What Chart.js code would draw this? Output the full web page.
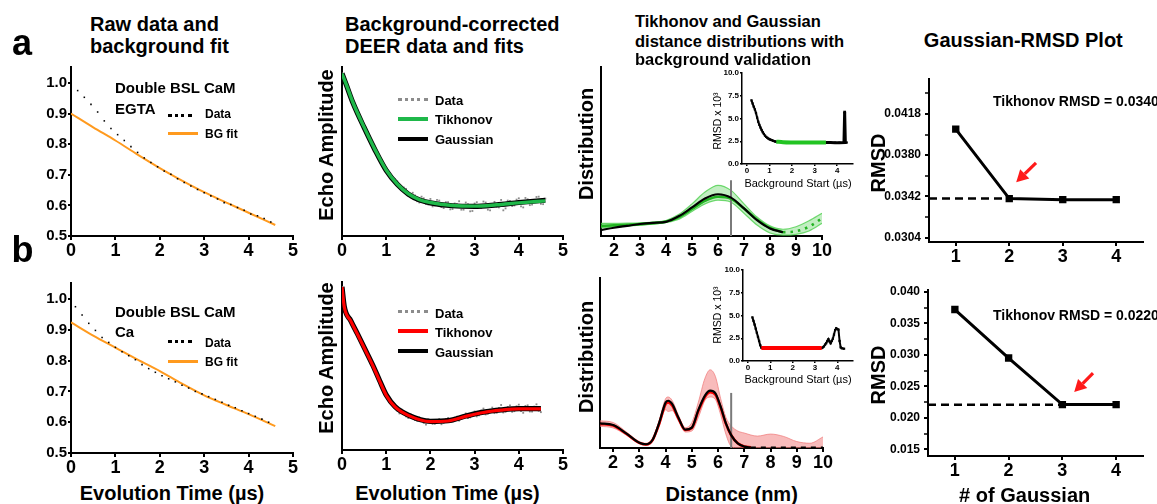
<!DOCTYPE html>
<html><head><meta charset="utf-8">
<script src="https://cdn.jsdelivr.net/npm/chart.js@4.4.0/dist/chart.umd.min.js"></script>
<style>
html,body{margin:0;padding:0;width:1157px;height:504px;overflow:hidden;background:#fff;}
body{position:relative;font-family:"Liberation Sans",Arial,Helvetica,sans-serif;color:#000;}
canvas{position:absolute;}
.t{position:absolute;white-space:nowrap;font-weight:bold;color:#000;z-index:10;}
.s{position:absolute;z-index:10;}
</style></head><body>
<script>
// ---------------- DATA ----------------
// Column 1: raw data and background fit
const rawTimeA = [0,0.15,0.3,0.45,0.6,0.75,0.9,1.05,1.2,1.35,1.5,1.65,1.8,1.95,2.1,2.25,2.4,2.55,2.7,2.85,3.0,3.15,3.3,3.45,3.6,3.75,3.9,4.05,4.2,4.35,4.5];
const rawDataA = [0.995,0.975,0.953,0.930,0.905,0.876,0.851,0.831,0.812,0.792,0.773,0.755,0.740,0.726,0.712,0.702,0.687,0.675,0.663,0.652,0.641,0.631,0.621,0.609,0.603,0.593,0.584,0.572,0.566,0.557,0.546];
const bgTime = [0,0.5,1,1.5,2,2.5,3,3.5,4,4.6];
const bgFitA = [0.900,0.855,0.812,0.766,0.722,0.681,0.643,0.609,0.576,0.536];
const rawTimeB = [0.1,0.25,0.4,0.55,0.7,0.85,1.0,1.15,1.3,1.45,1.6,1.75,1.9,2.05,2.2,2.35,2.5,2.65,2.8,2.95,3.1,3.25,3.4,3.55,3.7,3.85,4.0,4.15,4.3,4.45];
const rawDataB = [0.975,0.948,0.921,0.898,0.875,0.859,0.843,0.829,0.816,0.803,0.787,0.774,0.762,0.751,0.741,0.731,0.720,0.711,0.700,0.692,0.683,0.674,0.665,0.655,0.647,0.637,0.628,0.619,0.610,0.600];
const bgFitB = [0.924,0.881,0.842,0.803,0.766,0.725,0.687,0.656,0.626,0.587];

// Column 2: background-corrected DEER data and fits
const deerTimeA = [0,0.1,0.2,0.3,0.4,0.5,0.6,0.7,0.8,0.9,1.0,1.1,1.2,1.3,1.4,1.5,1.6,1.7,1.8,1.9,2.0,2.1,2.2,2.3,2.4,2.5,2.6,2.7,2.8,2.9,3.0,3.1,3.2,3.3,3.4,3.5,3.6,3.7,3.8,3.9,4.0,4.1,4.2,4.3,4.4,4.5,4.6];
const deerDataA = [1.0,0.962,0.931,0.892,0.869,0.831,0.810,0.774,0.757,0.722,0.709,0.680,0.674,0.648,0.649,0.624,0.633,0.607,0.621,0.598,0.614,0.594,0.609,0.586,0.604,0.583,0.598,0.581,0.603,0.576,0.600,0.588,0.606,0.581,0.597,0.590,0.611,0.585,0.608,0.594,0.616,0.588,0.613,0.597,0.620,0.599,0.615];
const deerTimeA2 = [1.25,1.35,1.45,1.55,1.65,1.75,1.85,1.95,2.05,2.15,2.25,2.35,2.45,2.55,2.65,2.75,2.85,2.95,3.05,3.15,3.25,3.35,3.45,3.55,3.65,3.75,3.85,3.95,4.05,4.15,4.25,4.35,4.45,4.55];
const deerDataA2 = [0.668,0.641,0.645,0.619,0.625,0.603,0.616,0.597,0.591,0.611,0.589,0.604,0.582,0.600,0.607,0.581,0.598,0.577,0.604,0.586,0.603,0.579,0.605,0.588,0.579,0.609,0.592,0.612,0.591,0.617,0.595,0.611,0.621,0.598];
const fitTimeA = [0,0.1,0.25,0.5,0.75,1.0,1.25,1.5,1.75,2.0,2.5,3.0,3.5,4.0,4.6];
const tikhFitA = [1.0,0.965,0.910,0.835,0.765,0.703,0.660,0.630,0.612,0.603,0.594,0.592,0.596,0.602,0.608];
const gaussFitA = [1.0,0.964,0.909,0.834,0.764,0.702,0.659,0.629,0.611,0.602,0.593,0.591,0.596,0.603,0.610];
const deerTimeB = [0,0.1,0.2,0.3,0.4,0.5,0.6,0.7,0.8,0.9,1.0,1.1,1.2,1.3,1.4,1.5,1.6,1.7,1.8,1.9,2.0,2.1,2.2,2.3,2.4,2.5,2.6,2.7,2.8,2.9,3.0,3.1,3.2,3.3,3.4,3.5,3.6,3.7,3.8,3.9,4.0,4.1,4.2,4.3,4.4,4.5];
const deerDataB = [1.0,0.925,0.895,0.868,0.840,0.813,0.785,0.757,0.728,0.692,0.664,0.645,0.633,0.612,0.614,0.598,0.603,0.589,0.596,0.578,0.592,0.580,0.595,0.583,0.598,0.588,0.602,0.596,0.612,0.600,0.618,0.606,0.627,0.611,0.630,0.614,0.638,0.617,0.637,0.619,0.639,0.614,0.637,0.618,0.640,0.616];
const deerTimeB2 = [1.25,1.35,1.45,1.55,1.65,1.75,1.85,1.95,2.05,2.15,2.25,2.35,2.45,2.55,2.65,2.75,2.85,2.95,3.05,3.15,3.25,3.35,3.45,3.55,3.65,3.75,3.85,3.95,4.05,4.15,4.25,4.35,4.45];
const deerDataB2 = [0.621,0.624,0.603,0.609,0.592,0.600,0.583,0.594,0.580,0.592,0.579,0.595,0.586,0.599,0.590,0.606,0.598,0.614,0.603,0.621,0.609,0.624,0.613,0.629,0.615,0.632,0.617,0.634,0.619,0.635,0.618,0.633,0.620];
const fitTimeB = [0,0.05,0.2,0.35,0.55,0.7,0.85,1.0,1.2,1.5,2.0,2.4,2.8,3.2,3.6,4.0,4.5];
const tikhFitB = [1.0,0.940,0.895,0.855,0.800,0.758,0.712,0.668,0.632,0.606,0.587,0.589,0.603,0.615,0.622,0.626,0.626];
const gaussFitB = [1.0,0.941,0.896,0.856,0.801,0.759,0.713,0.669,0.633,0.607,0.588,0.590,0.604,0.616,0.623,0.627,0.627];

// Column 3: distance distributions
const distA = [1.5,2,2.5,3,3.5,4,4.5,5,5.5,6,6.5,7,7.5,8,8.5];
const gaussDistA = [0.035,0.049,0.060,0.071,0.078,0.084,0.118,0.169,0.222,0.247,0.227,0.163,0.094,0.045,0.022];
const tikhDistA = [0.060,0.063,0.066,0.070,0.076,0.085,0.112,0.160,0.208,0.232,0.220,0.163,0.098,0.048,0.022];
const tailDistA = [8.5,9,9.5,10];
const tikhTailA = [0.022,0.028,0.055,0.105];
const bandDistA = [1.5,2,2.5,3,3.5,4,4.5,5,5.5,6,6.5,7,7.5,8,8.5,9,9.5,10];
const bandUpperA = [0.075,0.075,0.076,0.078,0.083,0.092,0.128,0.190,0.260,0.300,0.270,0.190,0.112,0.060,0.040,0.055,0.090,0.135];
const bandLowerA = [0.048,0.052,0.058,0.064,0.070,0.080,0.100,0.145,0.190,0.212,0.200,0.135,0.065,0.018,0.005,0.010,0.030,0.075];
const cutoffA = [0,0.33];

const distB = [1.5,2,2.5,3,3.25,3.5,3.75,4,4.1,4.25,4.5,4.75,5,5.25,5.5,5.7,5.9,6.1,6.3,6.5,6.75,7,7.25];
const gaussDistB = [0.145,0.135,0.086,0.031,0.022,0.047,0.145,0.267,0.278,0.259,0.175,0.108,0.120,0.224,0.308,0.337,0.322,0.243,0.145,0.076,0.027,0.008,0.003];
const tikhDistB = [0.142,0.132,0.084,0.030,0.021,0.046,0.140,0.258,0.268,0.250,0.170,0.106,0.118,0.218,0.300,0.328,0.314,0.238,0.142,0.075,0.028,0.009,0.004];
const bandDistB = [1.5,2,2.5,3,3.25,3.5,3.75,4,4.1,4.25,4.5,4.75,5,5.25,5.5,5.7,5.9,6.1,6.3,6.5,6.75,7,7.5,8,8.5,9,9.5,10];
const bandUpperB = [0.160,0.150,0.095,0.038,0.028,0.055,0.160,0.290,0.300,0.280,0.190,0.120,0.150,0.270,0.410,0.460,0.420,0.290,0.180,0.130,0.100,0.088,0.070,0.082,0.068,0.038,0.028,0.065];
const bandLowerB = [0.128,0.118,0.076,0.024,0.015,0.038,0.128,0.225,0.215,0.220,0.158,0.094,0.100,0.180,0.280,0.300,0.285,0.195,0.080,0.010,0,0,0,0,0,0,0,0];
const tailDistB = [7.25,10];
const tailValB = [0.003,0.003];
const cutoffB = [0,0.324];
const cutoffDist = 6.5;

// Insets: background validation
const insTopT1 = [0.2,0.25,0.3,0.35,0.4,0.45,0.5,0.55,0.6,0.65,0.7,0.75,0.8,0.85,0.9,0.95,1.0,1.05,1.1,1.15,1.2,1.25,1.3];
const insTopV1 = [7.0,6.65,6.3,6.0,5.6,5.1,4.65,4.3,4.0,3.74,3.5,3.3,3.12,2.98,2.88,2.79,2.72,2.66,2.62,2.56,2.52,2.48,2.45];
const insTopT2 = [1.3,1.6,2.0,2.5,3.0,3.5];
const insTopV2 = [2.45,2.40,2.37,2.35,2.35,2.35];
const insTopT3 = [3.5,3.7,3.9,4.1,4.3,4.33,4.36,4.42];
const insTopV3 = [2.35,2.35,2.34,2.34,2.35,5.7,2.36,2.36];
const insBotT1 = [0.2,0.25,0.3,0.35,0.4,0.45,0.5,0.55,0.6];
const insBotV1 = [4.8,4.4,4.0,3.55,3.1,2.65,2.2,1.75,1.45];
const insBotT2 = [0.6,1.0,1.5,2.0,2.5,3.0,3.3];
const insBotV2 = [1.42,1.42,1.42,1.42,1.42,1.42,1.42];
const insBotT3 = [3.3,3.35,3.4,3.45,3.5,3.55,3.6,3.65,3.7,3.75,3.8,3.85,3.9,3.95,4.0,4.05,4.1,4.15,4.2,4.3];
const insBotV3 = [1.42,1.5,1.6,1.8,1.95,2.2,2.4,2.15,1.95,2.2,2.45,2.9,3.4,3.6,3.5,3.45,2.2,1.5,1.4,1.35];

// Column 4: Gaussian-RMSD
const gaussCount = [1,2,3,4];
const rmsdA = [0.0404,0.0340,0.0339,0.0339];
const rmsdB = [0.0372,0.0295,0.0221,0.0221];
const tikhRmsdA = 0.03400;
const tikhRmsdB = 0.02209;

// Tick values
const timeTicks = [0,1,2,3,4,5];
const rawYTicks = [0.5,0.6,0.7,0.8,0.9,1.0];
const distTicks = [2,3,4,5,6,7,8,9,10];
const insXTicks = [0,1,2,3,4];
const insYTicks = [0,2.5,5,7.5,10];
const gaussTicks = [1,2,3,4];
const rmsdTicksA = [0.0304,0.0323,0.0342,0.0361,0.0380,0.0399,0.0418,0.0437];
const rmsdMinorA = [0.0323,0.0361,0.0399,0.0437];
const rmsdTicksB = [0.015,0.0175,0.020,0.0225,0.025,0.0275,0.030,0.0325,0.035,0.0375,0.040];
const rmsdMinorB = [0.0175,0.0225,0.0275,0.0325,0.0375];

// ---------------- HELPERS ----------------
const FONT = '"Liberation Sans", Arial, Helvetica, sans-serif';
const pts = (xs, ys) => xs.map((x, i) => ({x: x, y: ys[i]}));
function ln(xs, ys, o) {
  return Object.assign({data: pts(xs, ys), borderColor: '#000', borderWidth: 2, pointRadius: 0,
    fill: false, cubicInterpolationMode: 'monotone', tension: 0}, o || {});
}
function dots(xs, ys, o) {
  return Object.assign({data: pts(xs, ys), showLine: false, pointRadius: 1.2, pointStyle: 'rect',
    pointBackgroundColor: '#000', pointBorderWidth: 0, borderColor: 'rgba(0,0,0,0)'}, o || {});
}
function axis(o) {
  return {
    type: 'linear', min: o.min, max: o.max,
    afterBuildTicks: s => { s.ticks = o.ticks.map(v => ({value: v})); },
    grid: {display: !!o.tl, drawOnChartArea: false, drawTicks: true, tickLength: o.tl || 0,
      color: '#000', lineWidth: o.lw || 2, tickWidth: o.tw || (o.lw || 2)},
    border: {display: true, color: '#000', width: o.lw || 2},
    ticks: {display: !o.nolab, color: '#000', padding: o.pad || 0, autoSkip: false, maxRotation: 0, minRotation: 0,
      font: {family: FONT, size: o.fs || 18, weight: 'bold'}, callback: o.cb || (v => String(v))}
  };
}
function mk(area, box, xo, yo, datasets, extra) {
  extra = extra || {};
  const c = document.createElement('canvas');
  const W = box.r - box.l, H = box.b - box.t;
  c.width = W; c.height = H;
  Object.assign(c.style, {left: box.l + 'px', top: box.t + 'px', width: W + 'px', height: H + 'px', zIndex: extra.z || 1});
  document.body.appendChild(c);
  const yW = area.l - box.l, xH = box.b - area.b;
  const xs = axis(xo); xs.afterFit = s => { s.height = xH; };
  const ys = axis(yo); ys.afterFit = s => { s.width = yW; };
  return new Chart(c.getContext('2d'), {
    type: 'line',
    data: {datasets: datasets},
    options: {
      responsive: false, animation: false, devicePixelRatio: 1, events: [],
      layout: {padding: {top: area.t - box.t, right: box.r - area.r, left: 0, bottom: 0}},
      plugins: {legend: {display: false}, tooltip: {enabled: false}, title: {display: false}},
      scales: {x: xs, y: ys}
    },
    plugins: extra.plugins || []
  });
}
function T(s, x, y, size, o) {
  o = o || {};
  const d = document.createElement('div');
  d.className = 't'; d.textContent = s;
  d.style.fontSize = size + 'px'; d.style.lineHeight = size + 'px';
  d.style.left = x + 'px'; d.style.top = y + 'px';
  if (o.normal) d.style.fontWeight = 'normal';
  let tr = (o.a === 'l') ? 'translate(0,-50%)' : 'translate(-50%,-50%)';
  if (o.rot) tr += ' rotate(-90deg)';
  d.style.transform = tr;
  document.body.appendChild(d);
}
function S(x1, x2, y, th, color, dotted) {
  const d = document.createElement('div');
  d.className = 's';
  d.style.left = x1 + 'px'; d.style.width = (x2 - x1) + 'px';
  d.style.top = (y - th / 2) + 'px';
  if (dotted) { d.style.height = '0px'; d.style.borderTop = th + 'px dotted ' + color; }
  else { d.style.height = th + 'px'; d.style.background = color; }
  document.body.appendChild(d);
}
function arrowPlugin(from, to) {
  return {id: 'arrow', afterDatasetsDraw(chart) {
    const ctx = chart.ctx, xs = chart.scales.x, ys = chart.scales.y;
    const x1 = xs.getPixelForValue(from[0]), y1 = ys.getPixelForValue(from[1]);
    const x2 = xs.getPixelForValue(to[0]), y2 = ys.getPixelForValue(to[1]);
    const ang = Math.atan2(y2 - y1, x2 - x1), hl = 12, hw = 6.5;
    const bx = x2 - hl * Math.cos(ang), by = y2 - hl * Math.sin(ang);
    ctx.save();
    ctx.strokeStyle = '#ff1a1a'; ctx.fillStyle = '#ff1a1a'; ctx.lineWidth = 3.2;
    ctx.beginPath(); ctx.moveTo(x1, y1); ctx.lineTo(bx, by); ctx.stroke();
    ctx.beginPath(); ctx.moveTo(x2, y2);
    ctx.lineTo(bx + hw * Math.sin(ang), by - hw * Math.cos(ang));
    ctx.lineTo(bx - hw * Math.sin(ang), by + hw * Math.cos(ang));
    ctx.closePath(); ctx.fill();
    ctx.restore();
  }};
}

const ORANGE = '#ff9a1e', GREEN = '#1fb84a', RED = '#ff0000', GRAY = '#8c8c8c';

// ---------------- COLUMN 1 ----------------
const yRaw = {min: 0.5, max: 1.052, ticks: rawYTicks, tl: 3, pad: 1, fs: 15, cb: v => v.toFixed(1)};
const xTime = {min: 0, max: 5, ticks: timeTicks, tl: 4, fs: 18};
mk({l: 71, t: 67, r: 293, b: 236}, {l: 28, t: 57, r: 301, b: 265}, xTime, yRaw, [
  dots(rawTimeA, rawDataA, {order: 0, pointRadius: 1.1}),
  ln(bgTime, bgFitA, {borderColor: ORANGE, borderWidth: 2, order: 1})
]);
mk({l: 71, t: 283, r: 293, b: 453}, {l: 28, t: 273, r: 301, b: 482}, xTime, yRaw, [
  dots(rawTimeB, rawDataB, {order: 0, pointRadius: 1.1}),
  ln(bgTime, bgFitB, {borderColor: ORANGE, borderWidth: 2, order: 1})
]);

// ---------------- COLUMN 2 ----------------
const yNo = (mn, mx) => ({min: mn, max: mx, ticks: [], nolab: true, tl: 0});
mk({l: 342, t: 67, r: 563, b: 236}, {l: 320, t: 57, r: 570, b: 265}, xTime, yNo(0.5, 1.02), [
  ln(fitTimeA, tikhFitA, {borderColor: GREEN, borderWidth: 3.4, order: 0}),
  ln(fitTimeA, gaussFitA, {borderColor: '#000', borderWidth: 5.2, order: 1}),
  dots(deerTimeA, deerDataA, {pointBackgroundColor: GRAY, pointRadius: 1.3, order: 2}),
  dots(deerTimeA2, deerDataA2, {pointBackgroundColor: GRAY, pointRadius: 1.3, order: 2})
]);
mk({l: 342, t: 282, r: 563, b: 450}, {l: 320, t: 272, r: 570, b: 479}, xTime, yNo(0.5, 1.015), [
  ln(fitTimeB, tikhFitB, {borderColor: RED, borderWidth: 3.2, order: 0}),
  ln(fitTimeB, gaussFitB, {borderColor: '#000', borderWidth: 5.2, order: 1}),
  dots(deerTimeB, deerDataB, {pointBackgroundColor: GRAY, pointRadius: 1.3, order: 2}),
  dots(deerTimeB2, deerDataB2, {pointBackgroundColor: GRAY, pointRadius: 1.3, order: 2})
]);

// ---------------- COLUMN 3 ----------------
const xDist = {min: 1.5, max: 10, ticks: distTicks, tl: 4, fs: 18};
mk({l: 601, t: 67, r: 822, b: 236}, {l: 590, t: 57, r: 835, b: 265}, xDist, yNo(0, 1), [
  ln(bandDistA, bandUpperA, {borderColor: 'rgba(70,205,70,0.75)', borderWidth: 1.2, fill: '+1', backgroundColor: 'rgba(110,215,110,0.42)', order: 6}),
  ln(bandDistA, bandLowerA, {borderColor: 'rgba(70,205,70,0.75)', borderWidth: 1.2, order: 5}),
  ln([cutoffDist, cutoffDist], cutoffA, {borderColor: '#7a7a7a', borderWidth: 2, order: 4, cubicInterpolationMode: 'default'}),
  ln(distA, tikhDistA, {borderColor: '#22b422', borderWidth: 2.6, order: 2}),
  ln(tailDistA, tikhTailA, {borderColor: '#22b422', borderWidth: 2.6, borderDash: [2.5, 5], order: 2}),
  ln(distA, gaussDistA, {borderColor: '#000', borderWidth: 2.2, order: 1})
]);
mk({l: 600, t: 278, r: 823, b: 448}, {l: 590, t: 268, r: 836, b: 477}, xDist, yNo(0, 1), [
  ln(bandDistB, bandUpperB, {borderColor: 'rgba(240,120,120,0.7)', borderWidth: 1, fill: '+1', backgroundColor: 'rgba(242,120,120,0.5)', order: 6}),
  ln(bandDistB, bandLowerB, {borderColor: 'rgba(240,120,120,0.7)', borderWidth: 1, order: 5}),
  ln([cutoffDist, cutoffDist], cutoffB, {borderColor: '#7a7a7a', borderWidth: 2, order: 4, cubicInterpolationMode: 'default'}),
  ln(distB, tikhDistB, {borderColor: RED, borderWidth: 2.6, order: 2}),
  ln(distB, gaussDistB, {borderColor: '#000', borderWidth: 2.2, order: 1}),
  ln(tailDistB, tailValB, {borderColor: '#000', borderWidth: 2, borderDash: [5, 5], order: 1})
]);

// Insets
const insX = {min: -0.22, max: 4.7, ticks: insXTicks, tl: 2, fs: 8, lw: 1.5};
const insY = {min: 0, max: 10, ticks: insYTicks, tl: 2, pad: 1, fs: 8, lw: 1.5, cb: v => v.toFixed(1)};
mk({l: 742, t: 73, r: 853, b: 164}, {l: 712, t: 64, r: 860, b: 177}, insX, insY, [
  ln(insTopT2, insTopV2, {borderColor: '#22c422', borderWidth: 4, order: 0}),
  ln(insTopT1, insTopV1, {borderColor: '#000', borderWidth: 2, pointRadius: 1.6, pointStyle: 'rect', pointBackgroundColor: '#000', pointBorderWidth: 0, order: 1}),
  ln(insTopT3, insTopV3, {borderColor: '#000', borderWidth: 3, cubicInterpolationMode: 'default', pointRadius: [1.6,1.6,1.6,1.6,1.6,2,0,1.6], pointStyle: 'rect', pointBackgroundColor: '#000', pointBorderWidth: 0, order: 1})
], {z: 3});
mk({l: 743, t: 270, r: 853, b: 361}, {l: 712, t: 261, r: 860, b: 374}, insX, insY, [
  ln(insBotT2, insBotV2, {borderColor: RED, borderWidth: 4, order: 0}),
  ln(insBotT1, insBotV1, {borderColor: '#000', borderWidth: 2, pointRadius: 1.6, pointStyle: 'rect', pointBackgroundColor: '#000', pointBorderWidth: 0, order: 1}),
  ln(insBotT3, insBotV3, {borderColor: '#000', borderWidth: 2, cubicInterpolationMode: 'default', pointRadius: 1.6, pointStyle: 'rect', pointBackgroundColor: '#000', pointBorderWidth: 0, order: 1})
], {z: 3});

// ---------------- COLUMN 4 ----------------
const xGauss = {min: 0.5, max: 4.5, ticks: gaussTicks, tl: 4, fs: 18};
const rmsdDs = (vals, tik, upto) => [
  ln(gaussCount, vals, {borderColor: '#000', borderWidth: 3, pointRadius: 5.2, pointStyle: 'rect',
    pointBackgroundColor: '#000', pointBorderWidth: 0, cubicInterpolationMode: 'default', order: 0}),
  ln([0.5, upto], [tik, tik], {borderColor: '#000', borderWidth: 2.5, borderDash: [8, 5], cubicInterpolationMode: 'default', order: 1})
];
mk({l: 929, t: 78, r: 1143, b: 242}, {l: 880, t: 68, r: 1157, b: 271}, xGauss,
  {min: 0.0300, max: 0.0450, ticks: rmsdTicksA, tl: 4, pad: 4, fs: 12,
   tw: c => (rmsdMinorA.includes(c.tick && c.tick.value) ? 1.5 : 2),
   cb: v => (rmsdMinorA.includes(v) ? '' : v.toFixed(4))},
  rmsdDs(rmsdA, tikhRmsdA, 2), {plugins: [arrowPlugin([2.50, 0.0373], [2.13, 0.0355])]});
mk({l: 928, t: 289, r: 1143, b: 456}, {l: 880, t: 279, r: 1157, b: 485}, xGauss,
  {min: 0.01394, max: 0.04027, ticks: rmsdTicksB, tl: 4, pad: 4, fs: 12,
   tw: c => (rmsdMinorB.includes(c.tick && c.tick.value) ? 1.5 : 2),
   cb: v => (rmsdMinorB.includes(v) ? '' : v.toFixed(3))},
  rmsdDs(rmsdB, tikhRmsdB, 3), {plugins: [arrowPlugin([3.57, 0.0271], [3.22, 0.0241])]});

// ---------------- TEXT ----------------
T('a', 22, 42.5, 36);
T('b', 22.5, 250, 36);
T('Raw data and', 90, 24.2, 20, {a: 'l'});
T('background fit', 90, 46.2, 20, {a: 'l'});
T('Background-corrected', 345, 24.2, 20, {a: 'l'});
T('DEER data and fits', 345, 46.2, 20, {a: 'l'});
T('Tikhonov and Gaussian', 635, 20.8, 16.5, {a: 'l'});
T('distance distributions with', 635, 40.8, 16.5, {a: 'l'});
T('background validation', 635, 59.1, 16.5, {a: 'l'});
T('Gaussian-RMSD Plot', 1023.3, 40, 20);

// column 1 legends
T('Double BSL CaM', 115, 87.2, 15, {a: 'l'});
T('EGTA', 115, 107.5, 15, {a: 'l'});
S(168, 192, 115, 3, '#000', true); T('Data', 205, 114, 12, {a: 'l'});
S(168, 198, 133.5, 3, ORANGE); T('BG fit', 205, 134, 12, {a: 'l'});
T('Double BSL CaM', 115, 310.8, 15, {a: 'l'});
T('Ca', 115, 330.5, 15, {a: 'l'});
S(168, 192, 341, 3, '#000', true); T('Data', 205, 342.5, 12, {a: 'l'});
S(168, 198, 361.5, 3, ORANGE); T('BG fit', 205, 361.5, 12, {a: 'l'});

// column 2 legends
S(398, 428, 99, 3, GRAY, true); T('Data', 435, 99.5, 13, {a: 'l'});
S(398, 428, 119, 4, GREEN); T('Tikhonov', 435, 118.7, 13, {a: 'l'});
S(398, 428, 139, 4, '#000'); T('Gaussian', 435, 138.7, 13, {a: 'l'});
S(398, 428, 311.7, 3, GRAY, true); T('Data', 435, 312.5, 13, {a: 'l'});
S(398, 428, 331, 4, RED); T('Tikhonov', 435, 331.7, 13, {a: 'l'});
S(398, 428, 350.7, 4, '#000'); T('Gaussian', 435, 351.7, 13, {a: 'l'});

// axis titles
T('Evolution Time (µs)', 172, 493, 20);
T('Evolution Time (µs)', 447.5, 493, 20);
T('Distance (nm)', 731.7, 494, 20);
T('# of Gaussian', 1024.7, 495, 20);
T('Echo Amplitude', 326, 145, 20, {rot: true});
T('Echo Amplitude', 326, 357.5, 20, {rot: true});
T('Distribution', 585.8, 144, 20, {rot: true});
T('Distribution', 585.8, 356.7, 20, {rot: true});
T('RMSD', 877.5, 162.5, 20, {rot: true});
T('RMSD', 877.5, 375, 20, {rot: true});

// inset titles
T('Background Start (µs)', 798, 183.3, 11, {normal: true});
T('Background Start (µs)', 798, 379.3, 11, {normal: true});
T('RMSD x 10³', 716.7, 120.8, 10.5, {normal: true, rot: true});
T('RMSD x 10³', 716.7, 315, 10.5, {normal: true, rot: true});

// column 4 annotations
T('Tikhonov RMSD = 0.03400', 993, 101.3, 14, {a: 'l'});
T('Tikhonov RMSD = 0.02209', 993, 314.7, 14, {a: 'l'});
</script>
</body></html>
